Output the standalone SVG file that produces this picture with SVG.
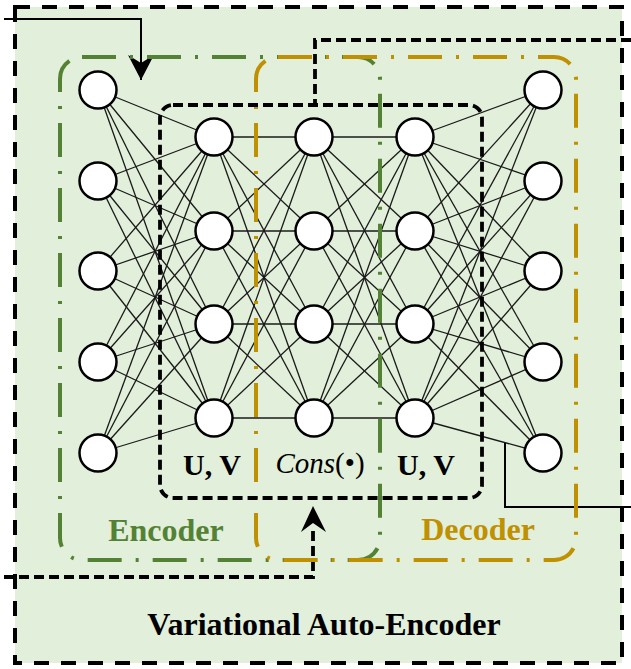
<svg xmlns="http://www.w3.org/2000/svg" width="631" height="669" viewBox="0 0 631 669">
  <style>
    .edge { stroke: #1a1a1a; stroke-width: 1.3; fill: none; }
    .node circle { fill: #ffffff; stroke: #000000; stroke-width: 2.5; }
    .outer { fill: #e2efda; stroke: #000000; stroke-width: 4; stroke-dasharray: 15 12; }
    .inner { fill: none; stroke: #000000; stroke-width: 3.8; stroke-dasharray: 10 5; }
    .flow-dash { fill: none; stroke: #000000; stroke-width: 3.8; stroke-dasharray: 10 5; }
    .flow { fill: none; stroke: #000000; stroke-width: 2; }
    .enc { fill: none; stroke: #548235; stroke-width: 4; stroke-dasharray: 34 14 3 14; }
    .dec { fill: none; stroke: #bf9000; stroke-width: 4; stroke-dasharray: 34 14 3 14; }
    text { font-family: "Liberation Serif", "Times New Roman", Times, "DejaVu Serif", serif; }
    .lbl { font-weight: bold; text-anchor: middle; }
  </style>
  <defs>
    <marker id="head" viewBox="0 0 26 26" refX="25" refY="13" markerWidth="26" markerHeight="26" markerUnits="userSpaceOnUse" orient="auto">
      <path d="M25 13 L0 0 L8 13 L0 26 Z" fill="#000000"/>
    </marker>
  </defs>

  <!-- outer VAE frame -->
  <rect class="outer" x="15" y="7" width="607" height="656"/>

  <!-- fully connected layers -->
  <g id="connectors">
    <!-- input layer to first hidden layer -->
    <g class="edge">
      <line x1="98" y1="90" x2="214" y2="137"/><line x1="98" y1="90" x2="214" y2="231"/><line x1="98" y1="90" x2="214" y2="324"/><line x1="98" y1="90" x2="214" y2="418"/>
      <line x1="98" y1="181" x2="214" y2="137"/><line x1="98" y1="181" x2="214" y2="231"/><line x1="98" y1="181" x2="214" y2="324"/><line x1="98" y1="181" x2="214" y2="418"/>
      <line x1="98" y1="271" x2="214" y2="137"/><line x1="98" y1="271" x2="214" y2="231"/><line x1="98" y1="271" x2="214" y2="324"/><line x1="98" y1="271" x2="214" y2="418"/>
      <line x1="98" y1="362" x2="214" y2="137"/><line x1="98" y1="362" x2="214" y2="231"/><line x1="98" y1="362" x2="214" y2="324"/><line x1="98" y1="362" x2="214" y2="418"/>
      <line x1="98" y1="453" x2="214" y2="137"/><line x1="98" y1="453" x2="214" y2="231"/><line x1="98" y1="453" x2="214" y2="324"/><line x1="98" y1="453" x2="214" y2="418"/>
    </g>
    <!-- first hidden layer to latent layer -->
    <g class="edge">
      <line x1="214" y1="137" x2="314" y2="137"/><line x1="214" y1="137" x2="314" y2="231"/><line x1="214" y1="137" x2="314" y2="324"/><line x1="214" y1="137" x2="314" y2="418"/>
      <line x1="214" y1="231" x2="314" y2="137"/><line x1="214" y1="231" x2="314" y2="231"/><line x1="214" y1="231" x2="314" y2="324"/><line x1="214" y1="231" x2="314" y2="418"/>
      <line x1="214" y1="324" x2="314" y2="137"/><line x1="214" y1="324" x2="314" y2="231"/><line x1="214" y1="324" x2="314" y2="324"/><line x1="214" y1="324" x2="314" y2="418"/>
      <line x1="214" y1="418" x2="314" y2="137"/><line x1="214" y1="418" x2="314" y2="231"/><line x1="214" y1="418" x2="314" y2="324"/><line x1="214" y1="418" x2="314" y2="418"/>
    </g>
    <!-- latent layer to second hidden layer -->
    <g class="edge">
      <line x1="314" y1="137" x2="415" y2="137"/><line x1="314" y1="137" x2="415" y2="231"/><line x1="314" y1="137" x2="415" y2="324"/><line x1="314" y1="137" x2="415" y2="418"/>
      <line x1="314" y1="231" x2="415" y2="137"/><line x1="314" y1="231" x2="415" y2="231"/><line x1="314" y1="231" x2="415" y2="324"/><line x1="314" y1="231" x2="415" y2="418"/>
      <line x1="314" y1="324" x2="415" y2="137"/><line x1="314" y1="324" x2="415" y2="231"/><line x1="314" y1="324" x2="415" y2="324"/><line x1="314" y1="324" x2="415" y2="418"/>
      <line x1="314" y1="418" x2="415" y2="137"/><line x1="314" y1="418" x2="415" y2="231"/><line x1="314" y1="418" x2="415" y2="324"/><line x1="314" y1="418" x2="415" y2="418"/>
    </g>
    <!-- second hidden layer to output layer -->
    <g class="edge">
      <line x1="415" y1="137" x2="543" y2="90"/><line x1="415" y1="137" x2="543" y2="181"/><line x1="415" y1="137" x2="543" y2="271"/><line x1="415" y1="137" x2="543" y2="362"/><line x1="415" y1="137" x2="543" y2="453"/>
      <line x1="415" y1="231" x2="543" y2="90"/><line x1="415" y1="231" x2="543" y2="181"/><line x1="415" y1="231" x2="543" y2="271"/><line x1="415" y1="231" x2="543" y2="362"/><line x1="415" y1="231" x2="543" y2="453"/>
      <line x1="415" y1="324" x2="543" y2="90"/><line x1="415" y1="324" x2="543" y2="181"/><line x1="415" y1="324" x2="543" y2="271"/><line x1="415" y1="324" x2="543" y2="362"/><line x1="415" y1="324" x2="543" y2="453"/>
      <line x1="415" y1="418" x2="543" y2="90"/><line x1="415" y1="418" x2="543" y2="181"/><line x1="415" y1="418" x2="543" y2="271"/><line x1="415" y1="418" x2="543" y2="362"/><line x1="415" y1="418" x2="543" y2="453"/>
    </g>

    <!-- data flow: input arrow, output line, constraint feedback -->
    <path class="flow" d="M4 19 H141 V80" marker-end="url(#head)"/>
    <path class="flow" d="M505 443 V507 H631"/>
    <path class="flow-dash" d="M631 40 H315 V105"/>
    <path class="flow-dash" d="M4 577 H313 V530"/>
    <path d="M313 506 L301 532 L313 523 L326 532 Z" fill="#000000"/>
  </g>

  <!-- encoder / decoder regions -->
  <g id="encoder-box">
    <rect class="enc" x="60" y="57" width="320" height="503" rx="22"/>
    <text class="lbl" x="166" y="541" font-size="32" fill="#548235">Encoder</text>
  </g>
  <g id="decoder-box">
    <rect class="dec" x="256" y="57" width="320" height="503" rx="22"/>
    <text class="lbl" x="478" y="540" font-size="32" fill="#bf9000">Decoder</text>
  </g>

  <!-- constrained hidden block -->
  <g id="hidden-block">
    <rect class="inner" x="160" y="105" width="322" height="393" rx="13"/>
    <text class="lbl" x="212" y="475" font-size="30" fill="#000000">U, V</text>
    <text class="lbl" x="426" y="475" font-size="30" fill="#000000">U, V</text>
    <text x="320" y="473" font-size="29" text-anchor="middle" fill="#000000"><tspan font-style="italic">Cons</tspan>(•)</text>
  </g>

  <!-- neurons -->
  <g id="input-layer">
    <g class="node" id="in1"><circle cx="98" cy="90" r="18.5"/></g>
    <g class="node" id="in2"><circle cx="98" cy="181" r="18.5"/></g>
    <g class="node" id="in3"><circle cx="98" cy="271" r="18.5"/></g>
    <g class="node" id="in4"><circle cx="98" cy="362" r="18.5"/></g>
    <g class="node" id="in5"><circle cx="98" cy="453" r="18.5"/></g>
  </g>
  <g id="hidden1-layer">
    <g class="node" id="h1a"><circle cx="214" cy="137" r="18.5"/></g>
    <g class="node" id="h1b"><circle cx="214" cy="231" r="18.5"/></g>
    <g class="node" id="h1c"><circle cx="214" cy="324" r="18.5"/></g>
    <g class="node" id="h1d"><circle cx="214" cy="418" r="18.5"/></g>
  </g>
  <g id="latent-layer">
    <g class="node" id="za"><circle cx="314" cy="137" r="18.5"/></g>
    <g class="node" id="zb"><circle cx="314" cy="231" r="18.5"/></g>
    <g class="node" id="zc"><circle cx="314" cy="324" r="18.5"/></g>
    <g class="node" id="zd"><circle cx="314" cy="418" r="18.5"/></g>
  </g>
  <g id="hidden2-layer">
    <g class="node" id="h2a"><circle cx="415" cy="137" r="18.5"/></g>
    <g class="node" id="h2b"><circle cx="415" cy="231" r="18.5"/></g>
    <g class="node" id="h2c"><circle cx="415" cy="324" r="18.5"/></g>
    <g class="node" id="h2d"><circle cx="415" cy="418" r="18.5"/></g>
  </g>
  <g id="output-layer">
    <g class="node" id="out1"><circle cx="543" cy="90" r="18.5"/></g>
    <g class="node" id="out2"><circle cx="543" cy="181" r="18.5"/></g>
    <g class="node" id="out3"><circle cx="543" cy="271" r="18.5"/></g>
    <g class="node" id="out4"><circle cx="543" cy="362" r="18.5"/></g>
    <g class="node" id="out5"><circle cx="543" cy="453" r="18.5"/></g>
  </g>

  <text class="lbl" x="324" y="635" font-size="32" fill="#000000">Variational Auto-Encoder</text>
</svg>
